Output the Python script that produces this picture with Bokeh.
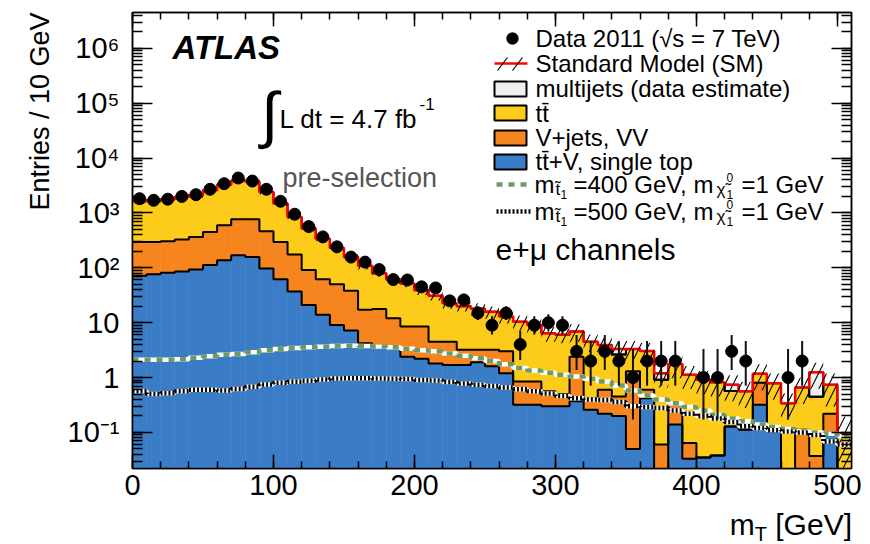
import numpy as np
from bokeh.plotting import figure
from bokeh.layouts import column
from bokeh.models import (Range1d, LinearAxis, LogAxis, FixedTicker, Label, Title, Div,
                          BoxAnnotation, PolyAnnotation, Arrow, BasicTickFormatter,
                          CustomLabelingPolicy)
from bokeh.embed import file_html
from bokeh.resources import INLINE

# ---------------- data (10 GeV bins, 0-510 GeV) ----------------
bin_low = list(range(0, 510, 10))
data = [1820, 1700, 1780, 2000, 2150, 2700, 3410, 4330, 3810, 2700,
        1630, 947, 564, 366, 241, 157, 127, 93, 61, 60,
        45, 43, 25, 26, 15, 9, 15, 4, 9, 10,
        9, 3, 2, 3, 2, 1, 2, 2, 2, 0,
        1, 1, 3, 2, 0, 0, 1, 2, 0, 0, 0]
ttv = [72, 76, 81, 86, 93, 112, 138, 170, 158, 97,
       62, 37, 21, 14, 9.1, 7.2, 4.2, 3.9, 3.5, 2.4,
       2.2, 1.8, 1.7, 1.7, 1.9, 1.6, 1.2, 0.32, 0.32, 0.3,
       0.3, 0.37, 0.26, 0.22, 0.2, 0.05, 0.42, 0, 0.14, 0.033,
       0.035, 0.038, 0.128, 0.112, 0.32, 0.104, 0, 0, 0, 0.1, 0]
vjets = [225, 221, 225, 241, 273, 339, 459, 598, 610, 368,
         235, 138, 70, 48, 41, 31, 13, 13.8, 8.5, 6.1,
         6.3, 2.7, 2.8, 1.5, 1.3, 1.6, 1.8, 0.53, 0.53, 0.26,
         0.2, 2.03, 0.16, 0.38, 0.25, 1.25, 0.18, 0.06, 0.2, 0.031,
         0, 0, 0, 0.008, 0.48, 0, 0, 0.112, 0.037, 0.12, 0]
ttbar = [1333, 1403, 1464, 1623, 1734, 2139, 2673, 3132, 2982, 1945,
         1183, 671, 427, 278, 180, 120, 92, 62, 49, 43.5,
         30.5, 26.5, 18, 16.8, 14.8, 12.6, 9.9, 9.55, 8.25, 5.84,
         5.5, 4.5, 4.08, 3.3, 2.17, 2.0, 2.46, 0.85, 1.43, 1.06,
         0.875, 0.78, 0.44, 0.44, 0.37, 0.686, 0.34, 0.55, 0.41, 0.52, 0.097]
multijet = [0, 0, 0, 0, 0, 0, 0, 0, 0, 0,
            0, 0, 0, 0, 0, 0, 0, 0, 0, 0,
            0, 0, 0, 0, 0, 0, 0, 0, 0, 0,
            0, 0, 0, 0, 0.68, 0, 0, 0.29, 0, 0,
            0, 0, 0.17, 0, 0, 0, 0, 0, 0.8, 0, 0]
sm_unc = [0.1, 0.1, 0.1, 0.1, 0.1, 0.1, 0.1, 0.1, 0.1, 0.1,
          0.1, 0.1, 0.1, 0.1, 0.12, 0.12, 0.15, 0.15, 0.15, 0.15,
          0.18, 0.18, 0.2, 0.2, 0.25, 0.25, 0.25, 0.3, 0.3, 0.3,
          0.3, 0.35, 0.35, 0.35, 0.4, 0.4, 0.4, 0.45, 0.45, 0.45,
          0.45, 0.45, 0.5, 0.5, 0.5, 0.5, 0.5, 0.5, 0.5, 0.6, 1.0]
sig400 = [2.1, 2.1, 2.1, 2.15, 2.3, 2.45, 2.6, 2.7, 2.9, 3.15,
          3.3, 3.45, 3.55, 3.65, 3.75, 3.8, 3.75, 3.7, 3.55, 3.35,
          3.15, 3.0, 2.75, 2.5, 2.25, 2.0, 1.75, 1.5, 1.35, 1.22,
          1.12, 1.04, 0.95, 0.85, 0.72, 0.58, 0.47, 0.4, 0.34, 0.29,
          0.25, 0.21, 0.18, 0.16, 0.14, 0.125, 0.115, 0.105, 0.1, 0.095, 0.085]
sig500 = [0.57, 0.5, 0.52, 0.56, 0.6, 0.6, 0.58, 0.62, 0.68, 0.75,
          0.8, 0.84, 0.87, 0.92, 0.96, 0.97, 0.97, 0.96, 0.95, 0.94,
          0.9, 0.88, 0.83, 0.78, 0.74, 0.7, 0.66, 0.61, 0.56, 0.51,
          0.46, 0.42, 0.4, 0.39, 0.36, 0.3, 0.29, 0.28, 0.25, 0.22,
          0.2, 0.18, 0.155, 0.13, 0.12, 0.11, 0.104, 0.1, 0.09, 0.068, 0.06]

x_ticks = [0, 100, 200, 300, 400, 500]
y_tick_labels = {0.1: "10\u207b\u00b9", 1: "1", 10: "10", 100: "10\u00b2",
                 1000: "10\u00b3", 10000: "10\u2074", 100000: "10\u2075",
                 1000000: "10\u2076"}

BLUE = "#3a7cc6"
ORANGE = "#f6841f"
YELLOW = "#fdcb1a"
GRAY = "#efefef"
GREEN = "#6b9b60"
FONT = "Liberation Sans"
BIN_W = 10.0
FLOOR = 1e-3

p = figure(width=870, height=510, y_axis_type="log",
           x_range=Range1d(0, 510), y_range=Range1d(0.022, 4.5e6),
           output_backend="svg", toolbar_location=None,
           min_border_left=132, min_border_right=19,
           min_border_top=12, min_border_bottom=42)
p.grid.visible = False
p.outline_line_color = "black"
p.outline_line_width = 1.5
p.background_fill_color = "white"
p.border_fill_color = "white"

lo = np.array(bin_low, float)
hi = lo + BIN_W
c1 = np.array(ttv, float)
c2 = c1 + np.array(vjets, float)
c3 = c2 + np.array(ttbar, float)
c4 = c3 + np.array(multijet, float)


def fl(a):
    return np.maximum(np.asarray(a, float), FLOOR)


xe = np.append(lo, lo[-1] + BIN_W)


def ext(a):
    a = fl(a)
    return np.append(a, a[-1])


# stacked histogram fills
p.quad(left=lo, right=hi, bottom=FLOOR, top=fl(c1), fill_color=BLUE, line_color=BLUE, line_width=0.6)
p.quad(left=lo, right=hi, bottom=fl(c1), top=fl(c2), fill_color=ORANGE, line_color=ORANGE, line_width=0.6)
p.quad(left=lo, right=hi, bottom=fl(c2), top=fl(c3), fill_color=YELLOW, line_color=YELLOW, line_width=0.6)
mj = np.array(multijet) > 0
p.quad(left=lo[mj], right=hi[mj], bottom=fl(c3[mj]), top=fl(c4[mj]),
       fill_color=GRAY, line_color="black", line_width=2)

for c in (c1, c2, c3):
    p.step(xe, ext(c), mode="after", line_color="black", line_width=2)
p.step(xe, ext(c4), mode="after", line_color="red", line_width=2.5)

# SM uncertainty (hatched)
unc = np.array(sm_unc)
p.quad(left=lo, right=hi, bottom=fl(c4 * (1 - unc)), top=c4 * (1 + unc),
       fill_color=None, line_color=None, hatch_pattern="/", hatch_color="black",
       hatch_scale=16, hatch_weight=1.1)

# signal lines
p.step(xe, ext(sig400), mode="after", line_color="white", line_width=4.5)
p.step(xe, ext(sig400), mode="after", line_color=GREEN, line_width=4.5, line_dash="6 6")
p.step(xe, ext(sig500), mode="after", line_color="white", line_width=4.5)
p.step(xe, ext(sig500), mode="after", line_color="black", line_width=4.5, line_dash="2 2")

# data with Poisson intervals
d = np.array(data, float)
m = d > 0
cx = lo + BIN_W / 2
dn = d[m]
low = dn * (1 - 1 / (9 * dn) - 1 / (3 * np.sqrt(dn))) ** 3
high = dn + 1 + np.sqrt(dn + 0.75)
p.segment(cx[m], fl(low), cx[m], high, line_color="#111111", line_width=2)
p.scatter(cx[m], dn, size=12, color="black")

# ---------------- axes ----------------
xt = FixedTicker(ticks=x_ticks, minor_ticks=list(range(0, 511, 20)))
yt = FixedTicker(ticks=list(y_tick_labels.keys()),
                 minor_ticks=[k * 10.0 ** e for e in range(-2, 7) for k in range(1, 10)])


def style(ax, maj, mnr):
    ax.major_tick_in = maj
    ax.major_tick_out = 0
    ax.minor_tick_in = mnr
    ax.minor_tick_out = 0
    ax.major_tick_line_width = 1.5
    ax.minor_tick_line_width = 1.5
    ax.axis_line_width = 1.5
    ax.major_tick_line_color = "black"
    ax.minor_tick_line_color = "black"
    ax.axis_line_color = "black"


xa = p.xaxis[0]
xa.ticker = xt
style(xa, 14, 7)
xa.major_label_text_font = FONT
xa.major_label_text_font_size = "29px"
xa.major_label_text_color = "black"
xa.major_label_standoff = 6

ya = p.yaxis[0]
ya.ticker = yt
style(ya, 20, 10)
ya.major_label_overrides = y_tick_labels
ya.major_label_text_font = FONT
ya.major_label_text_font_size = "29px"
ya.major_label_text_color = "black"
ya.major_label_standoff = 13

hide_all = CustomLabelingPolicy(code="for (const i of Array.from(indices)) indices.unset(i); return indices")
top = LinearAxis(ticker=xt, formatter=BasicTickFormatter(), major_label_text_font_size="0px",
                 major_label_standoff=0, major_label_policy=hide_all)
style(top, 14, 7)
p.add_layout(top, "above")
right = LogAxis(ticker=yt, formatter=BasicTickFormatter(), major_label_text_font_size="0px",
                major_label_standoff=0, major_label_policy=hide_all)
style(right, 20, 10)
p.add_layout(right, "right")

# y-axis title (top aligned, as in the reference)
p.add_layout(Title(text="Entries / 10 GeV", align="right", text_font=FONT,
                   text_font_size="27px", text_font_style="normal", text_color="black",
                   standoff=20), "left")

# ---------------- text & legend (page-pixel placement relative to frame) ----------------
FX, FY = 132, 468


def put(xp, yp, text, size, style_="normal", color="black", align="left", font=FONT):
    p.add_layout(Label(x=xp - FX, y=FY - yp, x_units="screen", y_units="screen",
                       text=text, text_font=font, text_font_size="%dpx" % round(size),
                       text_font_style=style_, text_color=color, text_align=align,
                       text_baseline="middle"))


def box(x0, x1, y0, y1, color):
    p.add_layout(BoxAnnotation(left=x0 - FX, right=x1 - FX, top=FY - y0, bottom=FY - y1,
                               left_units="screen", right_units="screen",
                               top_units="screen", bottom_units="screen",
                               fill_color=color, fill_alpha=1.0,
                               line_color="black", line_width=2, line_alpha=1.0))


def seg(x0, y0, x1, y1, color, width, dash="solid"):
    p.add_layout(Arrow(end=None, x_start=x0 - FX, y_start=FY - y0, x_end=x1 - FX, y_end=FY - y1,
                       start_units="screen", end_units="screen",
                       line_color=color, line_width=width, line_dash=dash))


put(172, 47, "ATLAS", 33, style_="bold italic")
put(269, 114, "\u222b", 62, align="center")
put(279, 118, "L dt = 4.7 fb", 26)
put(419, 103, "-1", 17)
put(282, 177, "pre-selection", 27, color="#555555")

# legend texts
LX = 535
rows = [38, 63, 88, 113, 137, 161]
texts = ["Data 2011 (\u221as = 7 TeV)", "Standard Model (SM)", "multijets (data estimate)",
         "tt\u0304", "V+jets, VV", "tt\u0304+V, single top"]
for yy, tx in zip(rows, texts):
    put(LX, yy, tx, 24)


def mline(ymid, mass):
    put(534, ymid, "m", 24)
    put(555, ymid + 5, "t\u0303", 17)
    put(560, ymid + 10, "1", 12)
    put(573, ymid, "=%d GeV, m" % mass, 24)
    put(716, ymid + 5, "\u03c7\u0303", 17)
    put(726, ymid + 10, "1", 12)
    put(726, ymid - 7, "0", 12)
    put(741, ymid, "=1 GeV", 24)


mline(184, 400)
mline(211, 500)
put(495, 249, "e+\u03bc channels", 30)

# legend symbols
seg(494, 63, 527, 63, "red", 2.5)
seg(497, 70, 507, 57, "black", 1.2)
seg(512, 70, 522, 57, "black", 1.2)
seg(496, 184, 531, 184, "white", 4.5)
seg(496, 184, 531, 184, GREEN, 4.5, "6 6")
seg(496, 211, 531, 211, "white", 4.5)
seg(496, 211, 531, 211, "black", 4.5, "2 2")
box(494, 526, 81, 96, GRAY)
box(494, 526, 105, 120, YELLOW)
box(494, 526, 130, 145, ORANGE)
box(494, 526, 154, 169, BLUE)
ang = np.linspace(0, 2 * np.pi, 25)[:-1]
p.add_layout(PolyAnnotation(xs=[float(v) for v in (512 - FX + 6 * np.cos(ang))],
                            ys=[float(v) for v in (FY - 38 + 6 * np.sin(ang))],
                            xs_units="screen", ys_units="screen",
                            fill_color="black", fill_alpha=1.0, line_color="black"))

# x-axis title (right aligned, with subscript) below the figure
xtitle = Div(text=('<div style="width:852px;text-align:right;font-family:\'Liberation Sans\';'
                   'font-size:30px;line-height:30px;color:black;white-space:nowrap">'
                   'm<span style="font-size:20px;position:relative;top:6px">T</span> [GeV]</div>'),
             width=870, height=34, margin=0)

layout = column(p, xtitle, spacing=0)
open("out.html", "w").write(file_html(layout, INLINE))
